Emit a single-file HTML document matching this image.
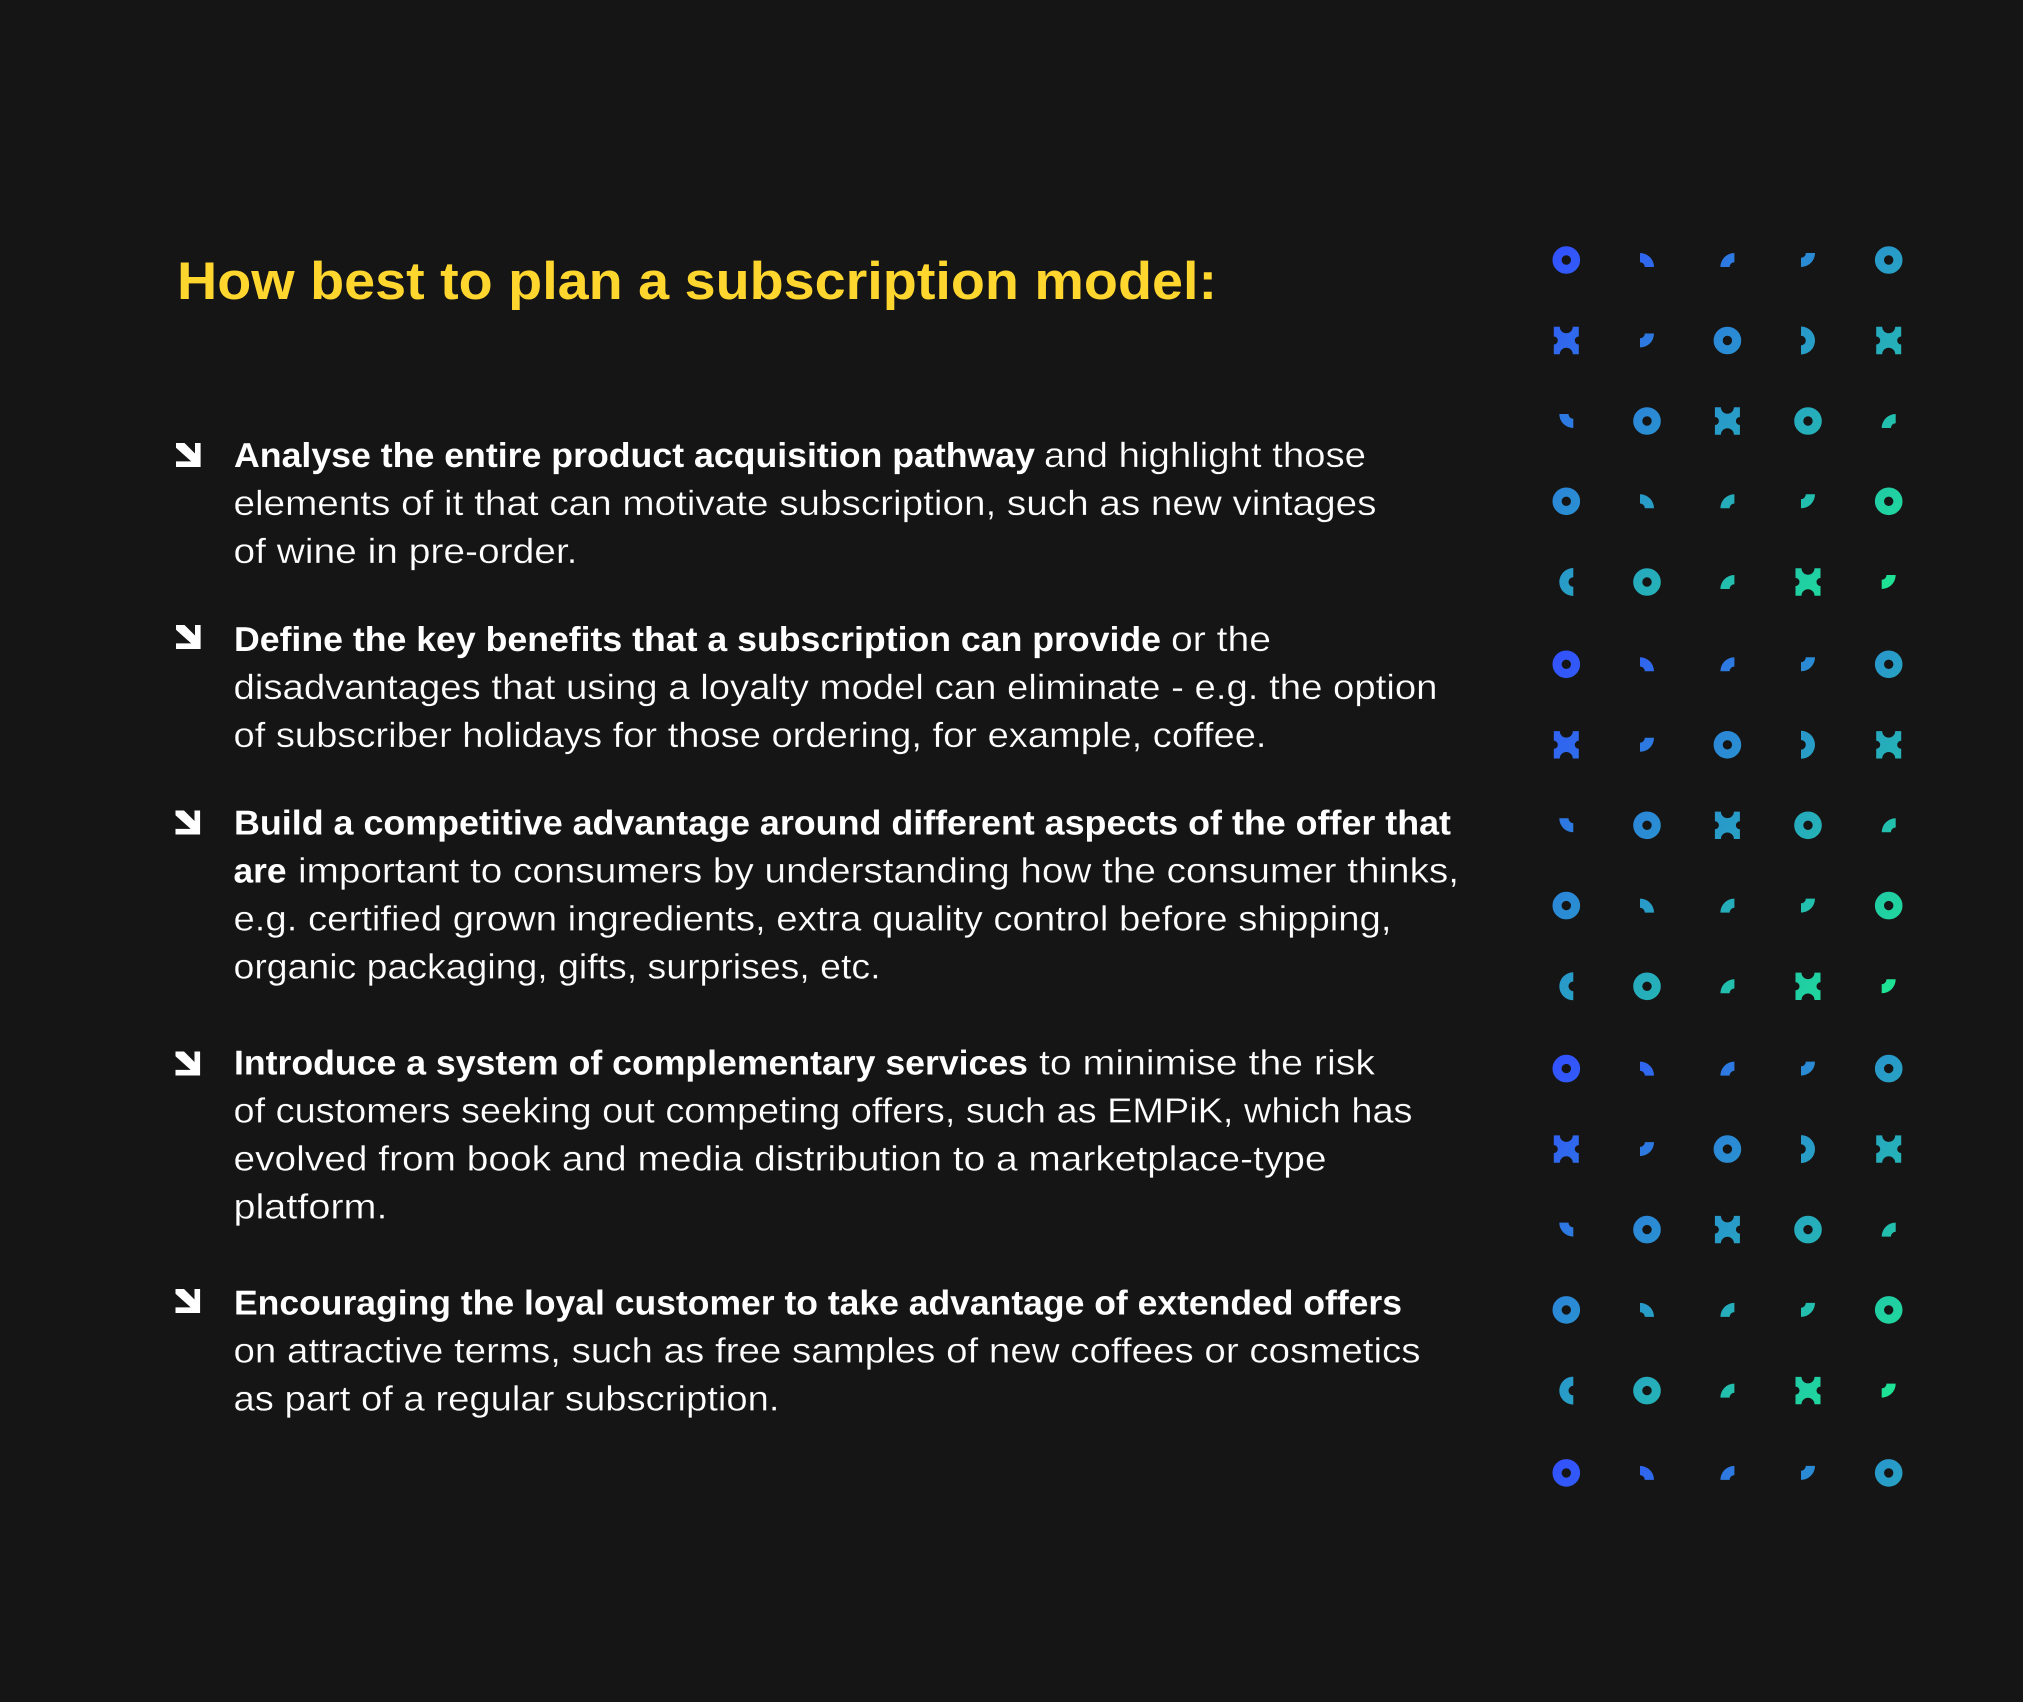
<!DOCTYPE html>
<html lang="en">
<head>
<meta charset="utf-8">
<title>How best to plan a subscription model</title>
<style>
html,body{margin:0;padding:0;background:#151515;}
svg{display:block;}
text{font-family:"Liberation Sans",sans-serif;text-rendering:geometricPrecision;}
.t{font-size:53px;font-weight:700;fill:#ffd62e;}
.b{font-size:34.5px;font-weight:700;fill:#fff;}
.r{font-size:35px;font-weight:400;fill:#fff;stroke:#151515;stroke-width:.3;}
</style>
</head>
<body>
<svg xmlns="http://www.w3.org/2000/svg" xmlns:xlink="http://www.w3.org/1999/xlink" width="2023" height="1702" viewBox="0 0 2023 1702">
<defs>
<linearGradient id="g" gradientUnits="userSpaceOnUse" x1="1552" y1="246" x2="1903" y2="596">
<stop offset="0" stop-color="#3350ff"/>
<stop offset="1" stop-color="#1de890"/>
</linearGradient>
<circle id="o" r="9.25" fill="none" stroke="#fff" stroke-width="9.1"/>
<path id="x" d="M-12.5,-13.7L-6.5,-13.7A6.5,6.5 0 0 0 6.5,-13.7L12.5,-13.7L12.5,-4A4,4 0 0 0 12.5,4L12.5,13.7L6.5,13.7A6.5,6.5 0 0 0 -6.5,13.7L-12.5,13.7L-12.5,4A4,4 0 0 0 -12.5,-4Z"/>
<path id="A" d="M-7,-7A14,14 0 0 1 7,7L-2.2,7A4.8,4.8 0 0 0 -7,2.2Z"/>
<path id="B" d="M-7,7A14,14 0 0 1 7,-7L7,2.2A4.8,4.8 0 0 0 2.2,7Z"/>
<path id="C" d="M7,7A14,14 0 0 1 -7,-7L2.2,-7A4.8,4.8 0 0 0 7,-2.2Z"/>
<path id="D" d="M7,-7A14,14 0 0 1 -7,7L-7,-2.2A4.8,4.8 0 0 0 -2.2,-7Z"/>
<path id="R" d="M-7,-14A14,14 0 0 1 -7,14L-7,4.8A4.8,4.8 0 0 0 -7,-4.8Z"/>
<path id="L" d="M7,14A14,14 0 0 1 7,-14L7,-4.8A4.8,4.8 0 0 0 7,4.8Z"/>
<mask id="m" maskUnits="userSpaceOnUse" x="1530" y="225" width="400" height="400">
<g fill="#fff">
<use xlink:href="#o" href="#o" x="1566.3" y="260"/>
<use xlink:href="#A" href="#A" x="1647" y="260"/>
<use xlink:href="#B" href="#B" x="1727.4" y="260"/>
<use xlink:href="#D" href="#D" x="1808" y="260"/>
<use xlink:href="#o" href="#o" x="1888.7" y="260"/>

<use xlink:href="#x" href="#x" x="1566.3" y="340.5"/>
<use xlink:href="#D" href="#D" x="1647" y="340.5"/>
<use xlink:href="#o" href="#o" x="1727.4" y="340.5"/>
<use xlink:href="#R" href="#R" x="1808" y="340.5"/>
<use xlink:href="#x" href="#x" x="1888.7" y="340.5"/>

<use xlink:href="#C" href="#C" x="1566.3" y="421"/>
<use xlink:href="#o" href="#o" x="1647" y="421"/>
<use xlink:href="#x" href="#x" x="1727.4" y="421"/>
<use xlink:href="#o" href="#o" x="1808" y="421"/>
<use xlink:href="#B" href="#B" x="1888.7" y="421"/>

<use xlink:href="#o" href="#o" x="1566.3" y="501.3"/>
<use xlink:href="#A" href="#A" x="1647" y="501.3"/>
<use xlink:href="#B" href="#B" x="1727.4" y="501.3"/>
<use xlink:href="#D" href="#D" x="1808" y="501.3"/>
<use xlink:href="#o" href="#o" x="1888.7" y="501.3"/>

<use xlink:href="#L" href="#L" x="1566.3" y="582"/>
<use xlink:href="#o" href="#o" x="1647" y="582"/>
<use xlink:href="#B" href="#B" x="1727.4" y="582"/>
<use xlink:href="#x" href="#x" x="1808" y="582"/>
<use xlink:href="#D" href="#D" x="1888.7" y="582"/>
</g>
</mask>
<path id="arrow" d="M0,0L8.5,0L19,10.5L19,0L24.6,0L24.6,24L0,24L0,18.4L15.2,18.4L0,4.8Z" fill="#fff"/>
</defs>

<rect width="2023" height="1702" fill="#151515"/>

<g>
<rect x="1530" y="225" width="400" height="400" fill="url(#g)" mask="url(#m)"/>
</g>
<g transform="translate(0,404.3)">
<rect x="1530" y="225" width="400" height="400" fill="url(#g)" mask="url(#m)"/>
</g>
<g transform="translate(0,808.6)">
<rect x="1530" y="225" width="400" height="400" fill="url(#g)" mask="url(#m)"/>
</g>
<g transform="translate(0,1212.9)">
<rect x="1530" y="225" width="400" height="60" fill="url(#g)" mask="url(#m)"/>
</g>

<text class="t" x="177" y="299" textLength="1040" lengthAdjust="spacingAndGlyphs">How best to plan a subscription model:</text>

<use xlink:href="#arrow" href="#arrow" x="176" y="443"/>
<use xlink:href="#arrow" href="#arrow" x="176" y="625"/>
<use xlink:href="#arrow" href="#arrow" x="175.5" y="810.5"/>
<use xlink:href="#arrow" href="#arrow" x="175.5" y="1051.5"/>
<use xlink:href="#arrow" href="#arrow" x="175.5" y="1289"/>

<text class="b" x="234" y="467" textLength="801" lengthAdjust="spacingAndGlyphs">Analyse the entire product acquisition pathway</text>
<text class="r" x="1044" y="467" textLength="322" lengthAdjust="spacingAndGlyphs">and highlight those</text>
<text class="r" x="233.500" y="515" textLength="1143" lengthAdjust="spacingAndGlyphs">elements of it that can motivate subscription, such as new vintages</text>
<text class="r" x="233.500" y="563" textLength="344" lengthAdjust="spacingAndGlyphs">of wine in pre-order.</text>

<text class="b" x="234" y="651" textLength="927" lengthAdjust="spacingAndGlyphs">Define the key benefits that a subscription can provide</text>
<text class="r" x="1171" y="651" textLength="100" lengthAdjust="spacingAndGlyphs">or the</text>
<text class="r" x="233.500" y="699" textLength="1204" lengthAdjust="spacingAndGlyphs">disadvantages that using a loyalty model can eliminate - e.g. the option</text>
<text class="r" x="233.500" y="747" textLength="1033" lengthAdjust="spacingAndGlyphs">of subscriber holidays for those ordering, for example, coffee.</text>

<text class="b" x="234" y="834.500" textLength="1217" lengthAdjust="spacingAndGlyphs">Build a competitive advantage around different aspects of the offer that</text>
<text class="b" x="233.500" y="882.500" textLength="53" lengthAdjust="spacingAndGlyphs">are</text>
<text class="r" x="298" y="882.500" textLength="1161" lengthAdjust="spacingAndGlyphs">important to consumers by understanding how the consumer thinks,</text>
<text class="r" x="233.500" y="930.500" textLength="1158" lengthAdjust="spacingAndGlyphs">e.g. certified grown ingredients, extra quality control before shipping,</text>
<text class="r" x="233.500" y="978.500" textLength="647" lengthAdjust="spacingAndGlyphs">organic packaging, gifts, surprises, etc.</text>

<text class="b" x="234" y="1074.500" textLength="794" lengthAdjust="spacingAndGlyphs">Introduce a system of complementary services</text>
<text class="r" x="1039" y="1074.500" textLength="336" lengthAdjust="spacingAndGlyphs">to minimise the risk</text>
<text class="r" x="233.500" y="1122.500" textLength="1179" lengthAdjust="spacingAndGlyphs">of customers seeking out competing offers, such as EMPiK, which has</text>
<text class="r" x="233.500" y="1170.500" textLength="1093" lengthAdjust="spacingAndGlyphs">evolved from book and media distribution to a marketplace-type</text>
<text class="r" x="233.500" y="1218.500" textLength="154" lengthAdjust="spacingAndGlyphs">platform.</text>

<text class="b" x="234" y="1314.500" textLength="1168" lengthAdjust="spacingAndGlyphs">Encouraging the loyal customer to take advantage of extended offers</text>
<text class="r" x="233.500" y="1362.500" textLength="1187" lengthAdjust="spacingAndGlyphs">on attractive terms, such as free samples of new coffees or cosmetics</text>
<text class="r" x="233.500" y="1410.500" textLength="546" lengthAdjust="spacingAndGlyphs">as part of a regular subscription.</text>
</svg>
</body>
</html>
